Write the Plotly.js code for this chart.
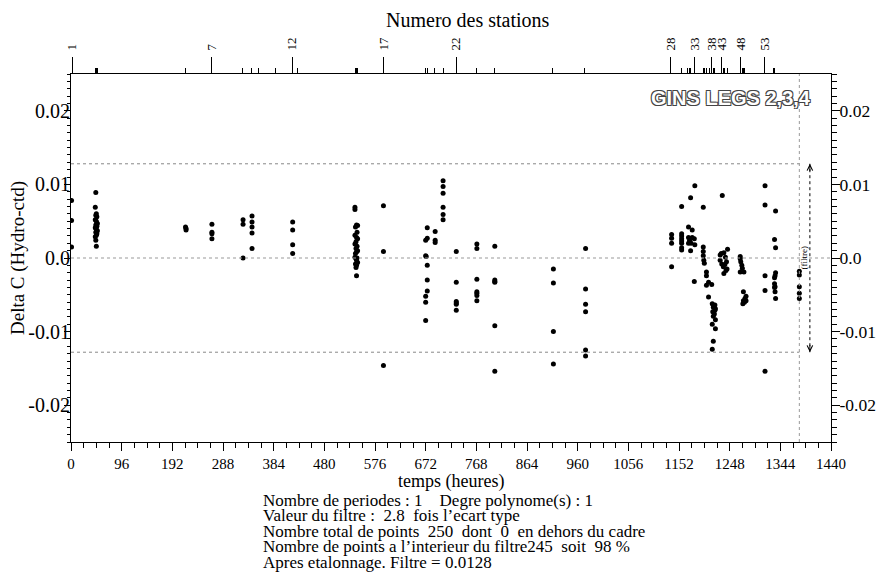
<!DOCTYPE html>
<html><head><meta charset="utf-8">
<script src="https://cdn.plot.ly/plotly-3.0.1.min.js"></script>
<style>html,body{margin:0;padding:0;background:#fff;}#chart{width:879px;height:573px;}</style>
</head><body><div id="chart"></div>
<script>
// time (hours) of each measurement
const temps = [
  1,1,1,
  47,46,48,47,49,46,48,50,47,49,46,48,50,47,49,48,46,47,48,
  217,218,218,
  267,267,267,267,
  326,326,326,
  343,343,343,343,343,
  420,420,420,420,
  538,538,541,543,539,542,538,541,543,540,538,542,540,543,541,539,538,542,540,541,543,539,541,540,541,
  592,592,592,
  675,675,672,672,673,675,675,675,672,672,672,
  690,690,690,
  705,705,705,705,705,705,
  730,730,730,730,730,730,
  769,769,769,769,769,769,769,
  803,803,803,803,803,803,
  914,914,914,914,
  975,975,975,975,975,975,
  1138,1138,1138,1138,
  1157,1157,1157,1157,1157,1157,1157,1157,
  1174,1182,1170,1177,1170,1177,1181,1172,1170,1175,1182,1174,1181,
  1198,1198,1198,1198,1199,1200,1204,1204,1208,1204,1214,1208,
  1215,1220,1218,1217,1221,1220,1216,1219,1217,1221,1215,1221,1217,1215,
  1234,1244,1237,1232,1230,1240,1230,1242,1233,1239,1236,1243,1241,1237,
  1268,1268,1269,1271,1272,1275,1268,1274,1279,1277,1274,1276,1273,1279,
  1315,1315,1315,1315,1315,
  1335,1333,1335,1335,1334,1333,1333,1334,1333,1334,1335,
  1380,1380,1380,1380,1380
];
// Delta C (Hydro-ctd)
const deltaC = [
  0.0078,0.0051,0.0015,
  0.0089,0.0069,0.0060,0.0058,0.0056,0.0052,0.0050,0.0047,0.0045,0.0043,0.0041,0.0039,0.0037,0.0035,0.0033,0.0031,0.0029,0.0024,0.0016,
  0.0042,0.0040,0.0038,
  0.0046,0.0035,0.0033,0.0026,
  0.0052,0.0046,0.0000,
  0.0057,0.0049,0.0042,0.0034,0.0013,
  0.0049,0.0038,0.0018,0.0006,
  0.0069,0.0066,0.0045,0.0044,0.0042,0.0035,0.0031,0.0028,0.0026,0.0022,0.0019,0.0016,0.0013,0.0010,0.0008,0.0006,0.0001,0.0000,-0.0001,-0.0003,-0.0006,-0.0008,-0.0010,-0.0013,-0.0024,
  0.0071,0.0009,-0.0146,
  0.0041,0.0027,0.0024,0.0003,0.0002,-0.0010,-0.0030,-0.0045,-0.0052,-0.0060,-0.0085,
  0.0036,0.0024,0.0021,
  0.0105,0.0097,0.0088,0.0069,0.0059,0.0052,
  0.0009,-0.0033,-0.0059,-0.0061,-0.0063,-0.0071,
  0.0019,0.0013,-0.0029,-0.0046,-0.0048,-0.0051,-0.0058,
  0.0016,-0.0030,-0.0032,-0.0033,-0.0092,-0.0154,
  -0.0015,-0.0034,-0.0100,-0.0144,
  0.0013,-0.0042,-0.0063,-0.0073,-0.0125,-0.0133,
  0.0032,0.0027,0.0020,-0.0012,
  0.0070,0.0033,0.0030,0.0026,0.0023,0.0020,0.0014,0.0011,
  0.0082,0.0098,0.0042,0.0038,0.0028,0.0028,0.0026,0.0024,0.0020,0.0020,0.0018,0.0010,-0.0032,
  0.0069,0.0015,0.0009,0.0003,-0.0003,-0.0007,-0.0019,-0.0024,-0.0033,-0.0037,-0.0036,-0.0053,
  -0.0062,-0.0064,-0.0065,-0.0067,-0.0069,-0.0071,-0.0073,-0.0076,-0.0079,-0.0084,-0.0090,-0.0096,-0.0113,-0.0124,
  0.0085,0.0012,0.0007,0.0006,0.0004,0.0001,-0.0003,-0.0005,-0.0008,-0.0009,-0.0012,-0.0015,-0.0017,-0.0021,
  0.0002,-0.0001,-0.0005,-0.0010,-0.0014,-0.0019,-0.0019,-0.0046,-0.0052,-0.0055,-0.0058,-0.0060,-0.0062,-0.0058,
  0.0098,0.0072,-0.0024,-0.0044,-0.0154,
  0.0064,0.0025,0.0014,-0.0020,-0.0024,-0.0027,-0.0035,-0.0039,-0.0040,-0.0046,-0.0055,
  -0.0018,-0.0023,-0.0039,-0.0048,-0.0055
];
// station positions (hours) on top axis
const stationLabelHours = [2,267,419,592,730,1136,1181,1214,1233,1269,1314];
const stationLabels = ['1','7','12','17','22','28','33','38','43','48','53'];
const stationOtherHours = [45.5,47.5,50,217,325,342,356,387,430,539,541,543,672,675,689,705,769,802,913,973,1156,1168,1172,1174,1198,1201,1205,1210,1217,1220,1236,1239,1243,1268,1272,1274,1277,1331,1333];
const yTickVals = [-0.02,-0.01,0,0.01,0.02];
const yTickText = ['-0.02','-0.01','0.0','0.01','0.02'];
const filtre = 0.0128;
const finCampagne = 1380;
const infoLines = [
  'Nombre de periodes : 1\u00A0\u00A0\u00A0\u00A0Degre polynome(s) : 1',
  'Valeur du filtre :\u00A0\u00A02.8\u00A0\u00A0fois l\u2019ecart type',
  'Nombre total de points\u00A0\u00A0250\u00A0\u00A0dont\u00A0\u00A00\u00A0\u00A0en dehors du cadre',
  'Nombre de points a l\u2019interieur du filtre245\u00A0\u00A0soit\u00A0\u00A098 %',
  'Apres etalonnage. Filtre = 0.0128'
];

const SERIF = 'Liberation Serif, Times New Roman, serif';
const traces = [
  {type:'scatter', mode:'markers', x:temps, y:deltaC, marker:{size:5, color:'#000'}, hoverinfo:'x+y'},
  {type:'scatter', mode:'markers', x:[], y:[], xaxis:'x2', yaxis:'y', showlegend:false},
  {type:'scatter', mode:'markers', x:[], y:[], xaxis:'x3', yaxis:'y', showlegend:false},
  {type:'scatter', mode:'markers', x:[], y:[], xaxis:'x', yaxis:'y2', showlegend:false}
];
const yCommon = {range:[-0.025,0.025], autorange:false, tickmode:'array', tickvals:yTickVals, ticktext:yTickText,
  ticks:'outside', tickcolor:'#000', showline:true, linecolor:'#000', linewidth:1, showgrid:false, zeroline:false,
  automargin:false};
const layout = {
  width:879, height:573, margin:{l:71, r:48, t:74, b:131}, showlegend:false,
  paper_bgcolor:'#fff', plot_bgcolor:'#fff',
  xaxis:{range:[0,1440], autorange:false, tickmode:'linear', tick0:0, dtick:96, ticks:'outside', ticklen:8, tickcolor:'#000',
    showline:true, linecolor:'#000', linewidth:1, showgrid:false, zeroline:false, automargin:false,
    tickfont:{family:SERIF, size:15, color:'#000'},
    minor:{tickmode:'linear', tick0:0, dtick:24, ticks:'outside', ticklen:5, tickcolor:'#000', showgrid:false}},
  xaxis2:{overlaying:'x', side:'top', anchor:'y', range:[0,1440], autorange:false, tickmode:'array',
    tickvals:stationLabelHours, ticktext:stationLabels, ticks:'outside', ticklen:16, tickcolor:'#000', tickangle:-90,
    ticklabelstandoff:4,
    showline:true, linecolor:'#000', showgrid:false, zeroline:false, automargin:false,
    tickfont:{family:SERIF, size:13, color:'#000'}},
  xaxis3:{overlaying:'x', side:'top', anchor:'y', range:[0,1440], autorange:false, tickmode:'array',
    tickvals:stationOtherHours, ticks:'outside', ticklen:5, tickcolor:'#000', showticklabels:false,
    showline:false, showgrid:false, zeroline:false, automargin:false},
  yaxis:Object.assign({}, yCommon, {ticklen:6, ticklabelstandoff:-10,
    tickfont:{family:SERIF, size:20, color:'#000'},
    minor:{tickmode:'linear', tick0:0, dtick:0.001, ticks:'outside', ticklen:3, tickcolor:'#000', showgrid:false}}),
  yaxis2:Object.assign({}, yCommon, {overlaying:'y', side:'right', anchor:'x', ticklen:8, ticklabelstandoff:-4,
    tickfont:{family:SERIF, size:17.5, color:'#000'},
    minor:{tickmode:'linear', tick0:0, dtick:0.001, ticks:'outside', ticklen:5, tickcolor:'#000', showgrid:false}}),
  shapes:[
    {type:'line', xref:'x', yref:'y', x0:0, x1:1440, y0:0, y1:0, line:{color:'#999', width:1, dash:'dot'}},
    {type:'line', xref:'x', yref:'y', x0:0, x1:finCampagne, y0:filtre, y1:filtre, line:{color:'#888', width:1, dash:'dot'}},
    {type:'line', xref:'x', yref:'y', x0:0, x1:finCampagne, y0:-filtre, y1:-filtre, line:{color:'#888', width:1, dash:'dot'}},
    {type:'line', xref:'x', yref:'paper', x0:finCampagne, x1:finCampagne, y0:0, y1:1, line:{color:'#999', width:1, dash:'dot'}},
    {type:'line', xref:'x', yref:'y', x0:1400, x1:1400, y0:-filtre, y1:filtre, line:{color:'#000', width:1, dash:'dot'}}
  ],
  annotations:[
    {x:1400, y:filtre, ax:1400, ay:filtre-0.0012, xref:'x', yref:'y', axref:'x', ayref:'y', text:'', showarrow:true, arrowhead:5, arrowsize:1.1, arrowwidth:1, arrowcolor:'#000'},
    {x:1400, y:-filtre, ax:1400, ay:-filtre+0.0012, xref:'x', yref:'y', axref:'x', ayref:'y', text:'', showarrow:true, arrowhead:5, arrowsize:1.1, arrowwidth:1, arrowcolor:'#000'},
    {x:1388, y:0, xref:'x', yref:'y', text:'(filtre)', showarrow:false, textangle:-90, font:{family:SERIF, size:9, color:'#000'}},
    {x:0.976, y:0.9347, xref:'paper', yref:'paper', xanchor:'right', yanchor:'middle', text:'GINS LEGS 2,3,4', showarrow:false,
      font:{family:'Liberation Sans, Arial, sans-serif', size:20, color:'#fff', weight:700,
        shadow:'-1px -1px 0 #444, 1px -1px 0 #444, -1px 1px 0 #444, 1px 1px 0 #444'}},
    {x:0.522, y:1.147, xref:'paper', yref:'paper', xanchor:'center', yanchor:'middle', text:'Numero des stations', showarrow:false,
      font:{family:SERIF, size:20, color:'#000'}},
    {x:-0.0697, y:0.5, xref:'paper', yref:'paper', xanchor:'center', yanchor:'middle', text:'Delta C (Hydro-ctd)', textangle:-90, showarrow:false,
      font:{family:SERIF, size:19, color:'#000'}},
    {x:0.5, y:-0.1069, xref:'paper', yref:'paper', xanchor:'center', yanchor:'middle', text:'temps (heures)', showarrow:false,
      font:{family:SERIF, size:18, color:'#000'}}
  ]
};
// pixel rows of the five info lines converted to paper fractions
const lineY = [-0.1586,-0.2007,-0.2429,-0.2850,-0.3272];
infoLines.forEach((t,i)=>{
  layout.annotations.push({x:0.25, y:lineY[i], xref:'paper', yref:'paper', xanchor:'left', yanchor:'middle', text:t, showarrow:false,
    font:{family:SERIF, size:17, color:'#000'}});
});
Plotly.newPlot('chart', traces, layout, {displayModeBar:false, staticPlot:true});
</script>
</body></html>
